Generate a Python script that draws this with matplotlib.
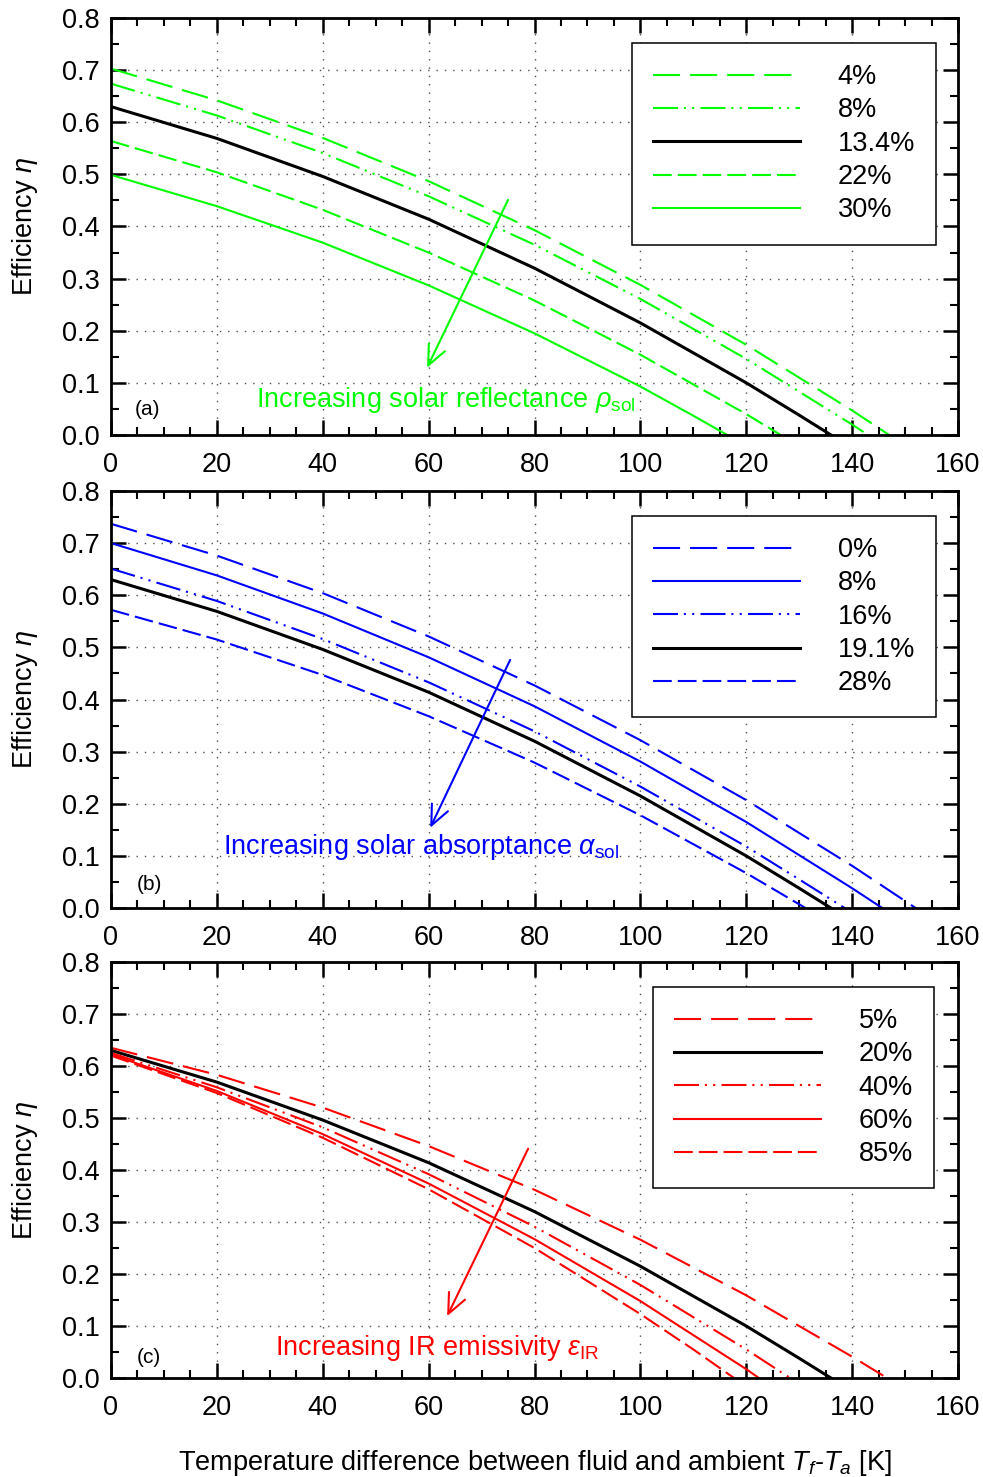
"""
Collector efficiency vs. temperature difference for three coating parameters:
(a) solar reflectance, (b) solar absorptance, (c) IR emissivity.
"""

import matplotlib
matplotlib.use("Agg")
import matplotlib.pyplot as plt
from matplotlib.ticker import MultipleLocator, FormatStrFormatter

plt.rcParams["font.family"] = ["Liberation Sans", "DejaVu Sans"]
plt.rcParams["mathtext.fontset"] = "custom"
plt.rcParams["mathtext.rm"] = "Liberation Sans"
plt.rcParams["mathtext.it"] = "Liberation Sans:italic"
plt.rcParams["mathtext.bf"] = "Liberation Sans:bold"

# ----------------------------------------------------------------------------
# Data
# ----------------------------------------------------------------------------

# reference curve (black) is the same in all three panels
T_REF = [0, 20, 40, 60, 80, 100, 120, 130, 136]
ETA_REF = [0.630, 0.569, 0.496, 0.414, 0.320, 0.215, 0.100, 0.038, 0.0]

# (a) solar reflectance
T_A_4 = [0, 20, 40, 60, 80, 100, 120, 140, 147]
ETA_A_4 = [0.703, 0.642, 0.570, 0.487, 0.393, 0.288, 0.173, 0.047, 0.0]
T_A_8 = [0, 20, 40, 60, 80, 100, 120, 140, 143]
ETA_A_8 = [0.674, 0.613, 0.541, 0.458, 0.365, 0.261, 0.146, 0.020, 0.0]
T_A_22 = [0, 20, 40, 60, 80, 100, 120, 126.5]
ETA_A_22 = [0.564, 0.504, 0.432, 0.350, 0.258, 0.154, 0.040, 0.0]
T_A_30 = [0, 20, 40, 60, 80, 100, 110, 116.4]
ETA_A_30 = [0.499, 0.439, 0.369, 0.287, 0.195, 0.093, 0.037, 0.0]
LABELS_A = ["4%", "8%", "13.4%", "22%", "30%"]

# (b) solar absorptance
T_B_0 = [0, 20, 40, 60, 80, 100, 120, 140, 152]
ETA_B_0 = [0.737, 0.676, 0.604, 0.521, 0.427, 0.322, 0.207, 0.081, 0.0]
T_B_8 = [0, 20, 40, 60, 80, 100, 120, 140, 145.7]
ETA_B_8 = [0.700, 0.638, 0.565, 0.481, 0.387, 0.281, 0.165, 0.038, 0.0]
T_B_16 = [0, 20, 40, 60, 80, 100, 120, 130, 138.6]
ETA_B_16 = [0.651, 0.589, 0.516, 0.433, 0.339, 0.233, 0.118, 0.055, 0.0]
T_B_28 = [0, 20, 40, 60, 80, 100, 120, 131.2]
ETA_B_28 = [0.572, 0.515, 0.447, 0.368, 0.279, 0.178, 0.067, 0.0]
LABELS_B = ["0%", "8%", "16%", "19.1%", "28%"]

# (c) IR emissivity
T_C_5 = [0, 20, 40, 60, 80, 100, 120, 140, 146.6]
ETA_C_5 = [0.635, 0.583, 0.520, 0.446, 0.362, 0.266, 0.159, 0.041, 0.0]
T_C_40 = [0, 20, 40, 60, 80, 100, 120, 128.3]
ETA_C_40 = [0.625, 0.559, 0.482, 0.392, 0.291, 0.179, 0.055, 0.0]
T_C_60 = [0, 20, 40, 60, 80, 100, 120, 122.4]
ETA_C_60 = [0.622, 0.552, 0.469, 0.374, 0.267, 0.148, 0.017, 0.0]
T_C_85 = [0, 20, 40, 60, 80, 100, 110, 117.7]
ETA_C_85 = [0.620, 0.548, 0.462, 0.363, 0.250, 0.123, 0.055, 0.0]
LABELS_C = ["5%", "20%", "40%", "60%", "85%"]

# ----------------------------------------------------------------------------
# Styles
# ----------------------------------------------------------------------------

GREEN = "#00ff00"
BLUE = "#0000ff"
RED = "#ff0000"

LONG_DASH = (0, (13, 4.8))
DASHED = (0, (9, 2.9))
DASH_DOT_DOT = (0, (12, 2.8, 1, 3, 1, 3))
SOLID = "-"

LW = 1.5
LW_REF = 2.2
FS = 19.5


def style_axes(ax):
    ax.set_xlim(0, 160)
    ax.set_ylim(0, 0.8)
    ax.xaxis.set_major_locator(MultipleLocator(20))
    ax.xaxis.set_minor_locator(MultipleLocator(5))
    ax.yaxis.set_major_locator(MultipleLocator(0.1))
    ax.yaxis.set_minor_locator(MultipleLocator(0.05))
    ax.yaxis.set_major_formatter(FormatStrFormatter("%.1f"))
    ax.tick_params(which="both", direction="in", top=True, right=True,
                   labelsize=FS)
    ax.tick_params(which="major", length=11, width=1.8)
    ax.tick_params(which="minor", length=5.5, width=1.5)
    ax.tick_params(axis="x", pad=12)
    ax.tick_params(axis="y", pad=8)
    for s in ax.spines.values():
        s.set_linewidth(2.0)
    ax.grid(True, which="major", color="0.3", lw=1.0, linestyle=(0, (1, 5)))
    ax.set_ylabel(r"Efficiency $\eta$", fontsize=FS)
    ax.yaxis.set_label_coords(-0.0835, 0.5)


def draw_panel(ax, curves, legend_x, note, note_xy, color, arrow_from, arrow_to, tag, tag_xy):
    style_axes(ax)
    for T, eta, c, ls, lw, label in curves:
        ax.plot(T, eta, color=c, linestyle=ls, lw=lw, label=label)
    leg = ax.legend(loc="upper right", bbox_to_anchor=(legend_x, 0.94),
                    borderaxespad=0, fontsize=FS, handlelength=5.45,
                    handletextpad=1.37, labelspacing=0.27, borderpad=0.78,
                    fancybox=False, framealpha=1, edgecolor="black")
    leg.get_frame().set_linewidth(1.1)
    ax.annotate("", xy=arrow_to, xytext=arrow_from,
                arrowprops=dict(arrowstyle="->,head_length=0.45,head_width=0.2",
                                color=color, lw=1.5, mutation_scale=32,
                                shrinkA=0, shrinkB=0))
    ax.text(note_xy[0], note_xy[1], note, color=color, fontsize=FS,
            ha="left", va="center")
    ax.text(tag_xy[0], tag_xy[1], tag, fontsize=15, ha="left", va="center")


# ----------------------------------------------------------------------------
# Figure
# ----------------------------------------------------------------------------

fig = plt.figure(figsize=(9.83, 14.77), dpi=100)
ax_a = fig.add_axes([0.1129, 0.7055, 0.8617, 0.2823])
ax_b = fig.add_axes([0.1129, 0.3852, 0.8617, 0.2824])
ax_c = fig.add_axes([0.1129, 0.0670, 0.8617, 0.2817])

draw_panel(
    ax_a,
    [(T_A_4, ETA_A_4, GREEN, LONG_DASH, LW, LABELS_A[0]),
     (T_A_8, ETA_A_8, GREEN, DASH_DOT_DOT, LW, LABELS_A[1]),
     (T_REF, ETA_REF, "black", SOLID, LW_REF, LABELS_A[2]),
     (T_A_22, ETA_A_22, GREEN, DASHED, LW, LABELS_A[3]),
     (T_A_30, ETA_A_30, GREEN, SOLID, LW, LABELS_A[4])],
    0.974, r"Increasing solar reflectance $\rho_{\mathrm{sol}}$", (27.4, 0.068),
    GREEN, (75.0, 0.451), (59.7, 0.129), "(a)", (4.4, 0.048))

draw_panel(
    ax_b,
    [(T_B_0, ETA_B_0, BLUE, LONG_DASH, LW, LABELS_B[0]),
     (T_B_8, ETA_B_8, BLUE, SOLID, LW, LABELS_B[1]),
     (T_B_16, ETA_B_16, BLUE, DASH_DOT_DOT, LW, LABELS_B[2]),
     (T_REF, ETA_REF, "black", SOLID, LW_REF, LABELS_B[3]),
     (T_B_28, ETA_B_28, BLUE, DASHED, LW, LABELS_B[4])],
    0.974, r"Increasing solar absorptance $\alpha_{\mathrm{sol}}$", (21.2, 0.118),
    BLUE, (75.4, 0.476), (60.3, 0.154), "(b)", (4.8, 0.046))

draw_panel(
    ax_c,
    [(T_C_5, ETA_C_5, RED, LONG_DASH, LW, LABELS_C[0]),
     (T_REF, ETA_REF, "black", SOLID, LW_REF, LABELS_C[1]),
     (T_C_40, ETA_C_40, RED, DASH_DOT_DOT, LW, LABELS_C[2]),
     (T_C_60, ETA_C_60, RED, SOLID, LW, LABELS_C[3]),
     (T_C_85, ETA_C_85, RED, DASHED, LW, LABELS_C[4])],
    0.9717, r"Increasing IR emissivity $\varepsilon_{\mathrm{IR}}$", (31.0, 0.057),
    RED, (78.8, 0.441), (63.5, 0.119), "(c)", (4.8, 0.040))

ax_c.set_xlabel(r"Temperature difference between fluid and ambient $T_f$-$T_a$ [K]",
                fontsize=FS)
ax_c.xaxis.set_label_coords(0.5, -0.168)

fig.savefig("out.png", dpi=100)
